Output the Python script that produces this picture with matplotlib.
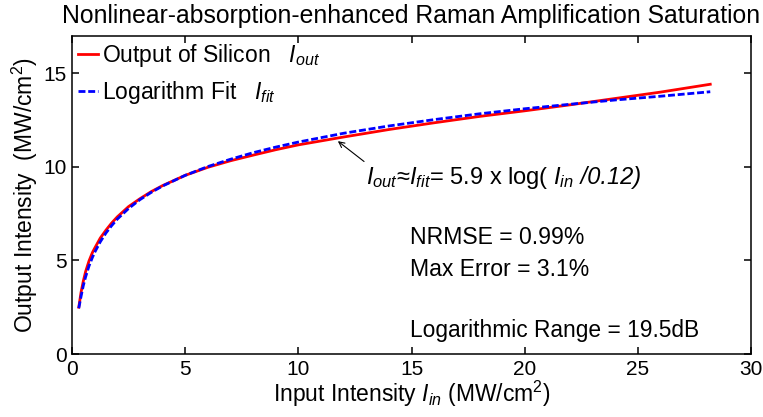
import matplotlib
matplotlib.use("Agg")
import matplotlib.pyplot as plt
from matplotlib.transforms import offset_copy

plt.rcParams["font.family"] = ["Liberation Sans", "DejaVu Sans"]
plt.rcParams["mathtext.fontset"] = "custom"
plt.rcParams["mathtext.rm"] = "Liberation Sans"
plt.rcParams["mathtext.it"] = "Liberation Sans:italic"

# input intensity samples (MW/cm^2)
x_in = [0.3, 0.4, 0.5, 0.6, 0.75, 0.9, 1.0, 1.25, 1.5, 1.75, 2.0, 2.5, 3.0, 3.5,
        4.0, 5.0, 6.0, 7.0, 8.0, 9.0, 10.0, 12.0, 14.0, 16.0, 18.0, 20.0,
        22.0, 24.0, 26.0, 28.2]
# measured silicon output
out_si = [2.5, 3.3, 3.9, 4.4, 4.97, 5.42, 5.65, 6.2, 6.62, 7.0, 7.33, 7.88, 8.3, 8.68,
          9.0, 9.55, 9.98, 10.33, 10.63, 10.92, 11.18, 11.6, 12.0, 12.36, 12.7, 13.0,
          13.32, 13.66, 14.0, 14.42]
# logarithm fit
out_fit = [2.45, 3.08, 3.66, 4.12, 4.70, 5.16, 5.43, 6.00, 6.47, 6.86, 7.21, 7.78, 8.25, 8.64,
           8.98, 9.55, 10.02, 10.41, 10.76, 11.06, 11.33, 11.80, 12.19, 12.53, 12.84, 13.11,
           13.35, 13.58, 13.78, 14.02]

x_ticks = [0, 5, 10, 15, 20, 25, 30]
y_ticks = [0, 5, 10, 15]

fig = plt.figure(figsize=(7.63, 4.17), dpi=100)
ax = fig.add_axes([72 / 763, 63 / 417, 679 / 763, 318 / 417])

ax.plot(x_in, out_si, color="red", lw=2, label="Output of Silicon   $I_{out}$")
ax.plot(x_in, out_fit, color="blue", lw=2, dashes=(2.5, 1),
        label="Logarithm Fit   $I_{fit}$")

ax.set_xlim(0, 30)
ax.set_ylim(0, 17)
ax.set_xticks(x_ticks)
ax.set_yticks(y_ticks)
ax.tick_params(direction="in", top=True, right=True, length=5, width=1.1,
               labelsize=15, pad=4)
for s in ax.spines.values():
    s.set_linewidth(1.1)

ax.set_title("Nonlinear-absorption-enhanced Raman Amplification Saturation",
             fontsize=17.8, pad=9)
ax.set_xlabel("Input Intensity $I_{in}$ (MW/cm$^2$)", fontsize=16.5, labelpad=0)
ax.set_ylabel("Output Intensity  (MW/cm$^2$)", fontsize=16.5, labelpad=2)

ax.legend(loc="upper left", frameon=False, fontsize=16.5, handlelength=0.9,
          handletextpad=0.15, labelspacing=0.45, borderaxespad=0.0,
          borderpad=0.25)

# fit formula with arrow pointing at the curves
ax.annotate("", xy=(11.65, 11.47), xytext=(13.0, 10.2),
            arrowprops=dict(arrowstyle="->", lw=0.8, color="black"))
eq = ax.text(13.0, 9.1, "$I_{out}$\u2248$I_{fit}$= 5.9 x log( $I_{in}$", fontsize=17)
fig.canvas.draw()
w = eq.get_window_extent().width * 72 / fig.dpi
ax.text(13.0, 9.1, " /0.12)", fontsize=17, style="italic",
        transform=offset_copy(ax.transData, fig=fig, x=w, y=0, units="points"))

ax.text(14.95, 5.9, "NRMSE = 0.99%", fontsize=16.6)
ax.text(14.95, 4.15, "Max Error = 3.1%", fontsize=16.6)
ax.text(14.95, 0.9, "Logarithmic Range = 19.5dB", fontsize=16.4)

fig.savefig("out.png", dpi=100)
